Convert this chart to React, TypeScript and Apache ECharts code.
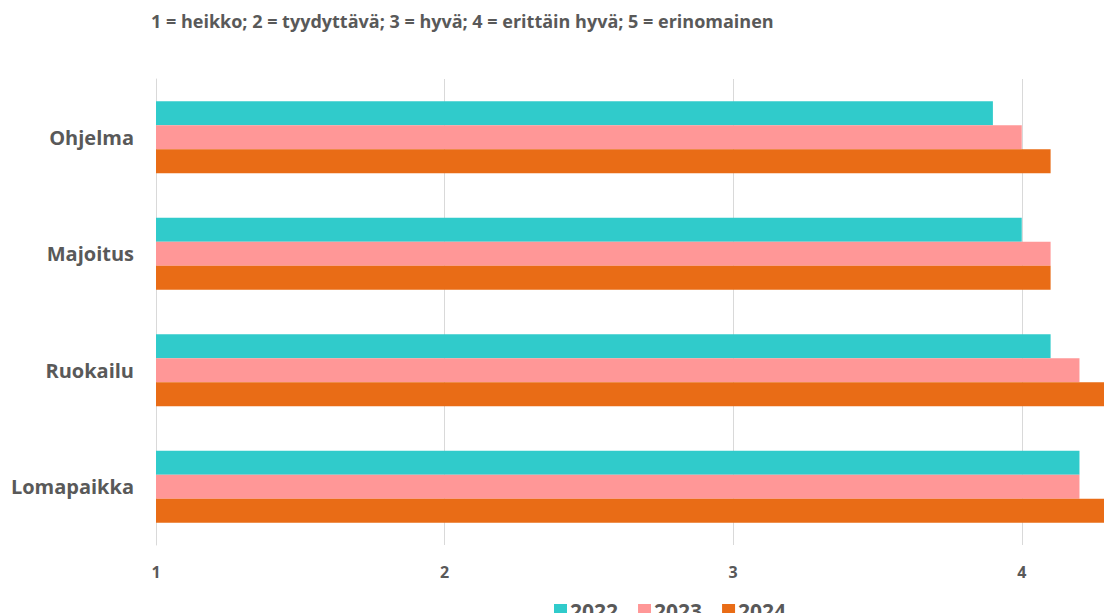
import React, { useEffect, useRef } from "react";
import * as echarts from "echarts";

const categories = ["Ohjelma", "Majoitus", "Ruokailu", "Lomapaikka"];
const years = ["2022", "2023", "2024"];
const values2022 = [3.9, 4.0, 4.1, 4.2];
const values2023 = [4.0, 4.1, 4.2, 4.2];
const values2024 = [4.1, 4.1, 4.3, 4.3];
const colors = ["#30CBCB", "#FF9797", "#E96C16"];
const titleText = "1 = heikko; 2 = tyydyttävä; 3 = hyvä; 4 = erittäin hyvä; 5 = erinomainen";
const xMin = 1;
const xVisibleMax = 4.285;

export default function App() {
  const ref = useRef<HTMLDivElement>(null);
  useEffect(() => {
    if (!ref.current) return;
    const chart = echarts.init(ref.current, null, { renderer: "svg" });
    const font = "'Open Sans', sans-serif";
    const seriesData = [values2022, values2023, values2024];
    chart.setOption({
      animation: false,
      backgroundColor: "#ffffff",
      title: {
        text: titleText,
        left: 146,
        top: 7,
        textStyle: { color: "#595959", fontSize: 18, fontWeight: "bold", fontFamily: font },
      },
      legend: {
        data: years,
        left: 549,
        top: 595,
        itemWidth: 13,
        itemHeight: 13,
        itemGap: 20,
        icon: "rect",
        textStyle: { color: "#595959", fontSize: 21, fontWeight: "bold", fontFamily: font, padding: [0, 0, 0, -2] },
      },
      grid: { left: 156, top: 79, right: 0, height: 466 },
      xAxis: {
        type: "value",
        min: xMin,
        max: xVisibleMax,
        interval: 1,
        axisLine: { show: false },
        axisTick: { show: false },
        splitLine: { show: true, showMaxLine: false, lineStyle: { color: "#d9d9d9", width: 1 } },
        axisLabel: {
          color: "#595959",
          fontSize: 16,
          fontWeight: "bold",
          fontFamily: font,
          margin: 19,
          formatter: (v: number) => (Number.isInteger(v) ? String(v) : ""),
        },
      },
      yAxis: {
        type: "category",
        data: categories,
        inverse: true,
        axisLine: { show: true, lineStyle: { color: "#d9d9d9" } },
        axisTick: { show: false },
        axisLabel: { color: "#595959", fontSize: 20, fontWeight: "bold", fontFamily: font, margin: 22 },
      },
      series: years.map((y, i) => ({
        name: y,
        type: "bar",
        data: seriesData[i],
        barWidth: 24,
        barGap: "0%",
        itemStyle: { color: colors[i] },
      })),
    });
    return () => chart.dispose();
  }, []);
  return (
    <div
      ref={ref}
      style={{ position: "absolute", left: 0, top: 0, width: 1107, height: 613 }}
    />
  );
}
